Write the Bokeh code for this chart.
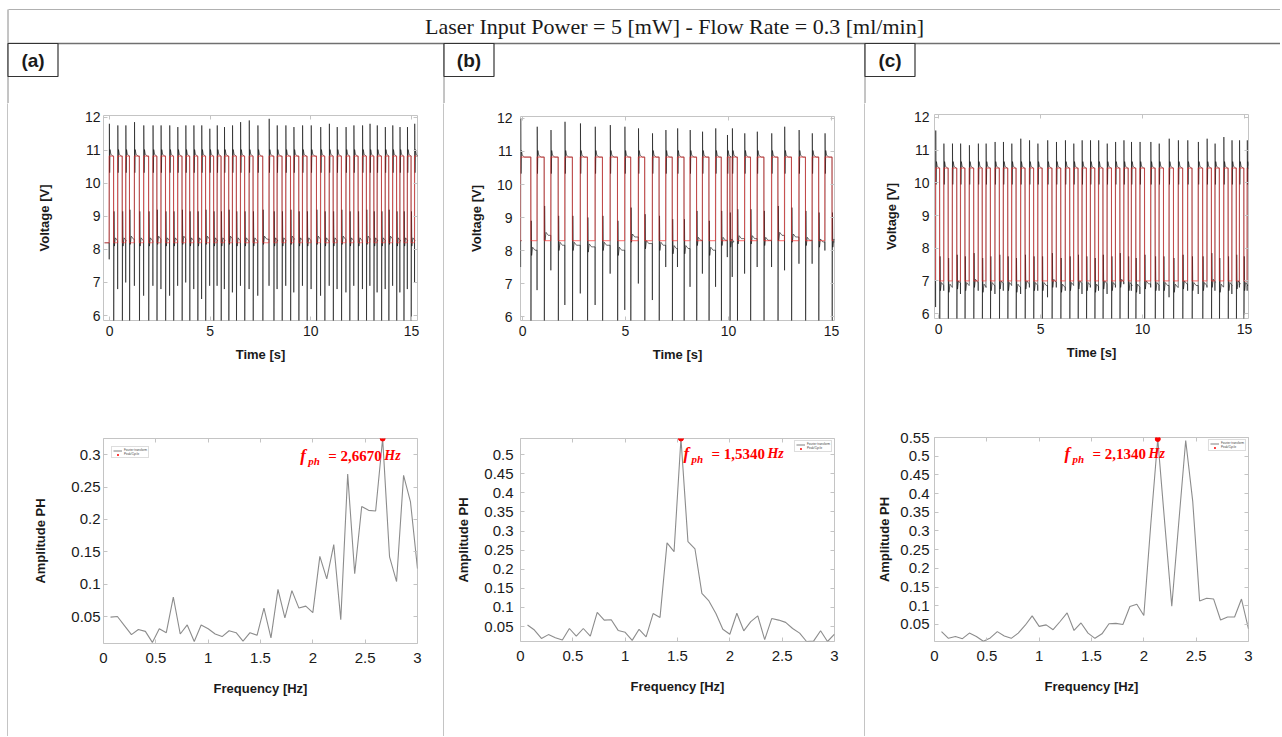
from bokeh.plotting import figure
from bokeh.layouts import column, row
from bokeh.models import (Range1d, Label, FixedTicker, LinearAxis, Spacer,
                          CustomJSTickFormatter, Legend, LegendItem)
from bokeh.core.properties import value
from bokeh.embed import file_html
from bokeh.resources import INLINE

TITLE = "Laser Input Power = 5 [mW] - Flow Rate = 0.3 [ml/min]"
PANEL_LABELS = ["(a)", "(b)", "(c)"]

# ---------------- time series: edge times of the square wave and spike extremes -------------
# (a)
a_rise = [-0.02, 0.40, 0.80, 1.23, 1.69, 2.15, 2.55, 2.98, 3.38, 3.78, 4.18, 4.57, 4.97, 5.34, 5.70,
          6.10, 6.50, 6.93, 7.36, 7.92, 8.32, 8.75, 9.15, 9.58, 10.01, 10.48, 10.91, 11.30, 11.74,
          12.13, 12.56, 12.93, 13.29, 13.69, 14.06, 14.42, 14.79, 15.15]
a_rise_peak = [11.8, 11.75, 11.75, 11.85, 11.75, 11.75, 11.75, 11.75, 11.7, 11.75, 11.75, 11.75, 11.65,
               11.75, 11.7, 11.75, 11.85, 11.9, 11.75, 11.95, 11.75, 11.75, 11.7, 11.75, 11.75, 11.7,
               11.8, 11.7, 11.7, 11.75, 11.75, 11.8, 11.75, 11.7, 11.75, 11.7, 11.7, 11.8]
a_rise_dip = [7.7, 6.8, 7.0, 6.9, 6.6, 6.9, 6.8, 6.6, 6.9, 7.0, 6.8, 6.5, 6.9, 6.9, 6.8, 6.7, 6.9, 6.8,
              6.6, 6.9, 6.8, 6.9, 6.7, 6.9, 6.8, 6.6, 6.9, 6.8, 6.7, 6.9, 6.8, 6.9, 6.7, 6.8, 6.9, 6.7,
              6.8, 7.0]
a_fall = [0.20, 0.63, 0.99, 1.48, 1.94, 2.35, 2.78, 3.18, 3.60, 3.98, 4.38, 4.77, 5.17, 5.54, 5.92,
          6.30, 6.71, 7.13, 7.61, 8.16, 8.57, 8.99, 9.40, 9.81, 10.28, 10.69, 11.11, 11.52, 11.93,
          12.35, 12.76, 13.13, 13.51, 13.87, 14.26, 14.62, 14.98]
a_fall_dip = [5.5, 5.6, 5.5, 5.5, 5.6, 5.5, 5.5, 5.6, 5.5, 5.5, 5.6, 5.5, 5.5, 5.6, 5.5, 5.5, 5.6, 5.5,
              5.5, 5.6, 5.5, 5.5, 5.6, 5.5, 5.5, 5.6, 5.5, 5.5, 5.6, 5.5, 5.5, 5.6, 5.5, 5.5, 5.6, 5.5, 5.5]
a_fall_level = [8.3, 8.3, 8.35, 8.3, 8.3, 8.35, 8.3, 8.3, 8.35, 8.3, 8.3, 8.35, 8.3, 8.3, 8.35, 8.3,
                8.3, 8.3, 8.35, 8.3, 8.3, 8.35, 8.3, 8.3, 8.35, 8.3, 8.3, 8.35, 8.3, 8.3, 8.35, 8.3,
                8.3, 8.35, 8.3, 8.3, 8.3]
a_levels = [10.82, 8.2]  # red square wave: high, low

# (b)
b_rise = [-0.10, 0.70, 1.37, 2.05, 2.80, 3.52, 4.25, 4.96, 5.62, 6.30, 6.95, 7.52, 8.13, 8.73, 9.37,
          9.94, 10.18, 10.78, 11.39, 12.09, 12.72, 13.42, 14.06, 14.68]
b_rise_peak = [12.0, 11.75, 11.65, 11.9, 11.85, 11.75, 11.8, 11.75, 11.7, 11.55, 11.65, 11.7, 11.65,
               11.6, 11.7, 11.5, 11.7, 11.55, 11.6, 11.55, 11.75, 11.65, 11.55, 11.55]
b_rise_dip = [7.5, 6.8, 7.4, 6.35, 6.7, 6.35, 7.3, 6.2, 7.0, 6.5, 7.5, 7.5, 6.9, 7.3, 6.9, 7.8, 7.2,
              7.3, 7.5, 7.5, 7.4, 7.6, 7.6, 8.0]
b_fall = [0.40, 1.05, 1.73, 2.42, 3.15, 3.88, 4.61, 5.25, 5.93, 6.63, 7.27, 7.84, 8.45, 9.05, 9.65,
          10.07, 10.43, 11.07, 11.72, 12.40, 13.06, 13.74, 14.38, 15.03]
b_fall_dip = [5.5, 5.6, 5.5, 5.5, 5.6, 5.5, 5.5, 5.6, 5.5, 5.5, 5.6, 5.5, 5.5, 5.6, 5.5, 5.5, 5.6, 5.5,
              5.5, 5.6, 5.5, 5.5, 5.6, 5.5]
b_fall_level = [8.05, 8.5, 8.2, 8.2, 8.15, 8.2, 8.05, 8.45, 8.25, 8.2, 8.1, 8.1, 8.35, 8.05, 8.35,
                8.3, 8.4, 8.4, 8.35, 8.5, 8.45, 8.35, 8.3, 8.3]
b_levels = [10.83, 8.3]

# (c)
c_rise = [-0.15, 0.25, 0.67, 1.07, 1.50, 1.94, 2.32, 2.76, 3.17, 3.58, 4.02, 4.45, 4.86, 5.34, 5.77,
          6.21, 6.62, 7.03, 7.44, 7.84, 8.26, 8.67, 9.08, 9.45, 9.87, 10.40, 10.81, 11.30, 11.75,
          12.21, 12.73, 13.16, 13.55, 13.98, 14.38, 14.75, 15.13]
c_rise_peak = [11.6, 11.2, 11.2, 11.2, 11.15, 11.2, 11.2, 11.25, 11.25, 11.2, 11.35, 11.3, 11.2, 11.3,
               11.25, 11.3, 11.2, 11.3, 11.3, 11.3, 11.2, 11.25, 11.3, 11.25, 11.25, 11.25, 11.2,
               11.35, 11.3, 11.3, 11.25, 11.35, 11.2, 11.4, 11.3, 11.3, 11.3]
c_rise_dip = [6.2, 6.7, 6.8, 6.6, 6.9, 6.7, 6.8, 6.6, 6.7, 6.9, 6.6, 6.8, 6.7, 6.5, 6.8, 6.7, 6.9, 6.6,
              6.8, 6.7, 6.6, 6.8, 6.9, 6.7, 6.6, 6.8, 6.7, 6.5, 6.8, 6.7, 6.6, 6.8, 6.7, 6.9, 6.6, 6.8,
              6.7]
c_fall = [0.05, 0.47, 0.89, 1.29, 1.72, 2.14, 2.54, 2.98, 3.39, 3.80, 4.24, 4.66, 5.08, 5.56, 5.99,
          6.43, 6.84, 7.25, 7.66, 8.06, 8.48, 8.89, 9.30, 9.67, 10.10, 10.62, 11.03, 11.52, 11.97,
          12.43, 12.95, 13.38, 13.77, 14.20, 14.60, 14.97]
c_fall_dip = [5.5, 5.6, 5.5, 5.5, 5.6, 5.5, 5.5, 5.6, 5.5, 5.5, 5.6, 5.5, 5.5, 5.6, 5.5, 5.5, 5.6, 5.5,
              5.5, 5.6, 5.5, 5.5, 5.6, 5.5, 5.5, 5.6, 5.5, 5.5, 5.6, 5.5, 5.5, 5.6, 5.5, 5.5, 5.6, 5.5]
c_fall_level = [6.9, 6.85, 6.95, 6.9, 7.0, 6.85, 6.9, 6.95, 6.9, 6.85, 6.95, 6.9, 6.9, 7.0, 6.85,
                6.9, 6.95, 6.9, 6.85, 6.95, 6.9, 7.0, 6.9, 6.85, 6.95, 6.9, 6.9, 6.85, 6.95, 6.9,
                6.9, 7.0, 6.85, 6.9, 6.95, 6.9]
c_levels = [10.45, 7.0]

time_ticks = [0, 5, 10, 15]
volt_ticks = [6, 7, 8, 9, 10, 11, 12]

# ---------------- spectra -------------
freq = [0.067, 0.133, 0.2, 0.267, 0.333, 0.4, 0.467, 0.533, 0.6, 0.667, 0.733, 0.8, 0.867, 0.933, 1.0,
        1.067, 1.133, 1.2, 1.267, 1.333, 1.4, 1.467, 1.533, 1.6, 1.667, 1.733, 1.8, 1.867, 1.933, 2.0,
        2.067, 2.133, 2.2, 2.267, 2.333, 2.4, 2.467, 2.533, 2.6, 2.667, 2.733, 2.8, 2.867, 2.933, 3.0]
amp_a = [0.049, 0.05, 0.036, 0.022, 0.03, 0.027, 0.01, 0.031, 0.025, 0.08, 0.023, 0.037, 0.0115, 0.037,
         0.031, 0.023, 0.019, 0.028, 0.025, 0.012, 0.025, 0.021, 0.063, 0.017, 0.092, 0.048, 0.09, 0.063,
         0.066, 0.056, 0.143, 0.108, 0.161, 0.045, 0.27, 0.116, 0.22, 0.214, 0.213, 0.325, 0.142, 0.104,
         0.268, 0.227, 0.124]
amp_b = [0.054, 0.041, 0.019, 0.029, 0.021, 0.015, 0.045, 0.025, 0.045, 0.025, 0.087, 0.067, 0.068, 0.04,
         0.035, 0.014, 0.043, 0.023, 0.084, 0.074, 0.269, 0.246, 0.542, 0.272, 0.253, 0.137, 0.117, 0.084,
         0.043, 0.030, 0.085, 0.039, 0.063, 0.078, 0.016, 0.071, 0.067, 0.061, 0.045, 0.033, 0.011, 0.012,
         0.039, 0.011, 0.030]
amp_c = [0.031, 0.013, 0.018, 0.012, 0.027, 0.018, 0.005, 0.014, 0.031, 0.019, 0.013, 0.027, 0.048, 0.073,
         0.045, 0.049, 0.036, 0.058, 0.081, 0.034, 0.054, 0.027, 0.013, 0.025, 0.052, 0.053, 0.050, 0.098,
         0.104, 0.074, 0.32, 0.546, 0.32, 0.099, 0.32, 0.542, 0.38, 0.113, 0.12, 0.118, 0.062, 0.07, 0.07,
         0.118, 0.038]
peak_values = ["= 2,6670", "= 1,5340", "= 2,1340"]
freq_ticks = [0, 0.5, 1, 1.5, 2, 2.5, 3]
freq_tick_labels = ["0", "0.5", "1", "1.5", "2", "2.5", "3"]
amp_ticks_a = [0.05, 0.1, 0.15, 0.2, 0.25, 0.3]
amp_ticks_b = [0.05, 0.1, 0.15, 0.2, 0.25, 0.3, 0.35, 0.4, 0.45, 0.5]
amp_ticks_c = [0.05, 0.1, 0.15, 0.2, 0.25, 0.3, 0.35, 0.4, 0.45, 0.5, 0.55]
amp_tick_labels = ["0.05", "0.1", "0.15", "0.2", "0.25", "0.3", "0.35", "0.4", "0.45", "0.5", "0.55"]
legend_labels = ["Fourier transform", "Peak/Cycle"]

# ---------------- styling / geometry (page pixels) -------------
SANS = "Liberation Sans"
SERIF = "Liberation Serif"
BOX = "#c4c4c4"
TXT = "#1a1a1a"
SEP = "#8a8a8a"
PAGE_W = 1280
HEAD_H = 103
PANEL_X = [8, 444, 865]
PANEL_W = [435, 420, 415]
TOP_H, BOT_H = 267, 366
BODY_H = TOP_H + BOT_H

geom = [dict(ml=95, fw=314), dict(ml=76, fw=314), dict(ml=69, fw=314)]
top_geom = [
    dict(mt=12, fh=205, xr=(-0.3, 15.3), yr=(5.85, 12.05), ls=3, als=30),
    dict(mt=13, fh=204, xr=(-0.1, 15.15), yr=(5.88, 12.06), ls=8, als=10),
    dict(mt=11, fh=204, xr=(-0.2, 15.2), yr=(5.85, 12.09), ls=5, als=12),
]
bot_geom = [
    dict(mt=68, fh=205, yr=(0.0083, 0.325), ls=3, als=20, leg="top_left", lm=8, tx=1.88, ty=0.2985),
    dict(mt=68, fh=203, yr=(0.011, 0.542), ls=7, als=10, leg="top_right", lm=2, tx=1.557, ty=0.5026),
    dict(mt=67, fh=204, yr=(0.0045, 0.55), ls=5, als=5, leg="top_right", lm=2, tx=1.242, ty=0.507),
]


def build_trace(rise, rpk, rdip, fall, fdip, flev, levels, t0, t1):
    hi, lo = levels
    ev = sorted([(t, 1, v, d) for t, v, d in zip(rise, rpk, rdip)] +
                [(t, 0, v, L) for t, v, L in zip(fall, fdip, flev)])
    cur = lo if ev[0][1] == 1 else hi
    bx, by = [t0], [cur]
    rx, ry = [t0], [lo if ev[0][1] == 1 else hi]
    for t, up, v, w in ev:
        if up:
            bx += [t, t + 0.004, t + 0.012, t + 0.026, t + 0.045, t + 0.09, t + 0.2]
            by += [cur, w, v, hi - 0.5, hi + 0.2, hi + 0.05, hi]
            rx += [t, t]
            ry += [lo, hi]
            cur = hi
        else:
            bx += [t, t + 0.008, t + 0.022, t + 0.04, t + 0.09, t + 0.2]
            by += [cur, v, w + 0.85, w - 0.2, w + 0.05, w - 0.04]
            rx += [t, t]
            ry += [hi, lo]
            cur = w - 0.04
    bx.append(t1)
    by.append(cur)
    rx.append(t1)
    ry.append(ry[-1])
    return bx, by, rx, ry


def style_axes(p, xt, yt, g, xlabel, ylabel, fs, xls, xals, xlabels=None, ylabels=None):
    xa, ya = p.below[0], p.left[0]
    xa.ticker = FixedTicker(ticks=xt)
    ya.ticker = FixedTicker(ticks=yt)
    if xlabels:
        xa.major_label_overrides = dict(zip(xt, xlabels))
    if ylabels:
        ya.major_label_overrides = dict(zip(yt, ylabels))
    for ax in (xa, ya):
        ax.axis_line_color = None
        ax.major_tick_in = 4
        ax.major_tick_out = 0
        ax.major_tick_line_color = BOX
        ax.minor_tick_line_color = None
        ax.major_label_text_font = SANS
        ax.major_label_text_font_size = fs
        ax.major_label_text_color = TXT
        ax.axis_label_text_font = SANS
        ax.axis_label_text_font_size = "13px"
        ax.axis_label_text_font_style = "bold"
        ax.axis_label_text_color = TXT
    xa.axis_label = xlabel
    ya.axis_label = ylabel
    xa.major_label_standoff = xls
    xa.axis_label_standoff = xals
    ya.major_label_standoff = g["ls"]
    ya.axis_label_standoff = g["als"]
    for loc, tk in (("above", xt), ("right", yt)):
        ax = LinearAxis(ticker=FixedTicker(ticks=tk), formatter=CustomJSTickFormatter(code="return ''"),
                        axis_line_color=None, major_tick_in=4, major_tick_out=0,
                        major_tick_line_color=BOX, minor_tick_line_color=None,
                        major_label_standoff=0, major_label_text_font_size="1px")
        p.add_layout(ax, loc)
    p.grid.visible = False
    p.outline_line_color = BOX
    p.outline_line_width = 1


def base_fig(width, ml, fw, mt, fh, height, xr, yr):
    return figure(frame_width=fw, frame_height=fh, min_border_left=ml, min_border_right=width - ml - fw,
                  min_border_top=mt, min_border_bottom=height - mt - fh,
                  x_range=Range1d(*xr), y_range=Range1d(*yr), toolbar_location=None,
                  output_backend="svg", background_fill_color="white", border_fill_color="white")


def sep_fig(h):
    p = figure(width=1, height=h, min_border=0, x_axis_location=None, y_axis_location=None,
               toolbar_location=None, output_backend="svg", background_fill_color=SEP,
               border_fill_color=SEP, outline_line_color=None, x_range=Range1d(0, 1), y_range=Range1d(0, 1))
    p.grid.visible = False
    p.scatter([0.5], [0.5], size=0, alpha=0)
    return p


series = [
    (a_rise, a_rise_peak, a_rise_dip, a_fall, a_fall_dip, a_fall_level, a_levels, amp_a, amp_ticks_a),
    (b_rise, b_rise_peak, b_rise_dip, b_fall, b_fall_dip, b_fall_level, b_levels, amp_b, amp_ticks_b),
    (c_rise, c_rise_peak, c_rise_dip, c_fall, c_fall_dip, c_fall_level, c_levels, amp_c, amp_ticks_c),
]

panels = []
for i, (rise, rpk, rdip, fall, fdip, flev, lev, amp, aticks) in enumerate(series):
    W = PANEL_W[i]
    g, tg, bg = geom[i], top_geom[i], bot_geom[i]
    # --- top: voltage vs time
    pt = base_fig(W, g["ml"], g["fw"], tg["mt"], tg["fh"], TOP_H, tg["xr"], tg["yr"])
    bx, by, rx, ry = build_trace(rise, rpk, rdip, fall, fdip, flev, lev,
                                 tg["xr"][0] + 0.05, tg["xr"][1] - 0.05)
    pt.line(bx, by, line_color="#000000", line_width=0.7, line_alpha=0.8)
    pt.line(rx, ry, line_color="#ff2a2a", line_width=1.1, line_alpha=0.55)
    style_axes(pt, time_ticks, volt_ticks, tg, "Time [s]", "Voltage [V]", "14px", 5, 8)

    # --- bottom: spectrum
    pb = base_fig(W, g["ml"], g["fw"], bg["mt"], bg["fh"], BOT_H, (0, 3), bg["yr"])
    ln = pb.line(freq, amp, line_color="#8c8c8c", line_width=1.1)
    k = max(range(len(amp)), key=lambda j: amp[j])
    mk = pb.scatter([freq[k]], [amp[k]], size=5, color="#ff0000", marker="circle")
    style_axes(pb, freq_ticks, aticks, bg, "Frequency [Hz]", "Amplitude PH", "15px", 9, 15,
               xlabels=freq_tick_labels, ylabels=amp_tick_labels[:len(aticks)])
    leg = Legend(items=[LegendItem(label=legend_labels[0], renderers=[ln]),
                        LegendItem(label=legend_labels[1], renderers=[mk])],
                 location=bg["leg"], margin=bg["lm"], padding=1, spacing=0, label_height=3,
                 glyph_height=3, glyph_width=9, label_text_font_size="3px", label_standoff=2,
                 border_line_color="#bbbbbb", border_line_width=0.6, background_fill_alpha=1)
    pb.add_layout(leg)
    # peak annotation f_ph = ... Hz
    common = dict(x=bg["tx"], y=bg["ty"], text_baseline="middle", text_color="#ff0000", text_font=SERIF)
    pb.add_layout(Label(text="f", text_font_size="17px", text_font_style="bold italic", **common))
    pb.add_layout(Label(text="ph", x_offset=8, y_offset=-5, text_font_size="11px",
                        text_font_style="bold italic", **common))
    pb.add_layout(Label(text=peak_values[i], x_offset=28, text_font_size="15px",
                        text_font_style="bold", **common))
    pb.add_layout(Label(text="Hz", x_offset=84, text_font_size="14px", text_font_style="bold italic",
                        **common))

    panels.append(column(pt, pb, spacing=0))

# header: title row, frame lines and the panel label boxes
header = figure(width=PAGE_W, height=HEAD_H, x_range=Range1d(0, PAGE_W), y_range=Range1d(HEAD_H, 0),
                min_border=0, x_axis_location=None, y_axis_location=None, toolbar_location=None,
                output_backend="svg", outline_line_color=None)
header.grid.visible = False
header.segment(x0=[8], y0=[9], x1=[PAGE_W], y1=[9], line_color="#b0b0b0", line_width=1)
header.segment(x0=[7.5], y0=[9], x1=[7.5], y1=[HEAD_H + 1], line_color=SEP, line_width=1)
header.segment(x0=[PANEL_X[1] - 0.5, PANEL_X[2] - 0.5], y0=[43, 43], x1=[PANEL_X[1] - 0.5, PANEL_X[2] - 0.5],
               y1=[HEAD_H + 1, HEAD_H + 1], line_color=SEP, line_width=1)
header.segment(x0=[8], y0=[43], x1=[PAGE_W], y1=[43], line_color="#707070", line_width=1.4)
box_left = [x - 0.5 for x in PANEL_X]
header.quad(left=box_left, right=[x + 50 for x in box_left], top=[43] * 3, bottom=[76] * 3,
            fill_color="white", line_color="#333333", line_width=1.2)
header.text(x=[x + 25 for x in box_left], y=[60] * 3, text=PANEL_LABELS, text_align="center",
            text_baseline="middle", text_font=value(SANS), text_font_style="bold",
            text_font_size="19px", text_color=TXT)
header.text(x=[674], y=[26], text=[TITLE], text_align="center", text_baseline="middle",
            text_font=value(SERIF), text_font_size="22px", text_color=TXT)

body = row(Spacer(width=7, height=BODY_H), sep_fig(BODY_H), panels[0], sep_fig(BODY_H), panels[1],
           sep_fig(BODY_H), panels[2], spacing=0)
layout = column(header, body, spacing=0)

open("out.html", "w").write(file_html(layout, INLINE))
